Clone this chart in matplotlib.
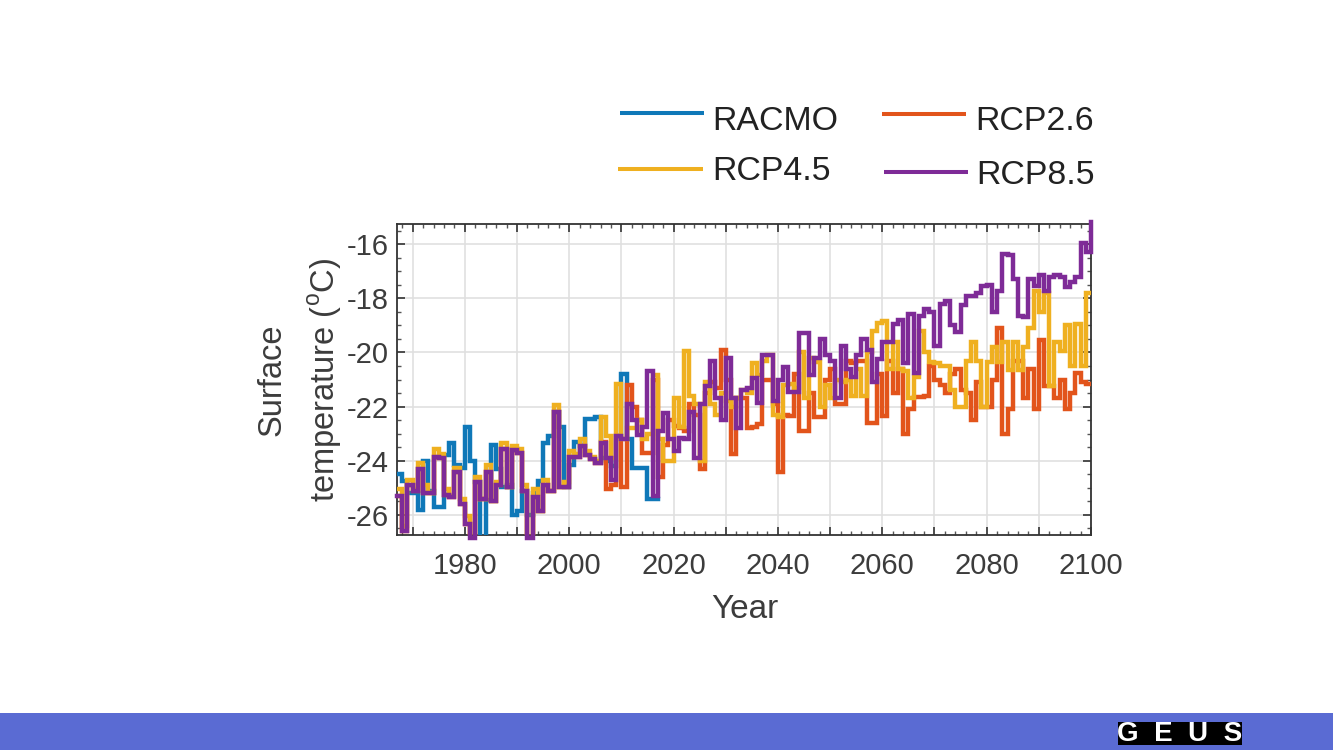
import matplotlib
matplotlib.use("Agg")
import matplotlib.pyplot as plt
import numpy as np
from matplotlib.lines import Line2D
from matplotlib.patches import Rectangle
from matplotlib.ticker import MultipleLocator, FixedLocator

plt.rcParams['font.family'] = ['Liberation Sans', 'DejaVu Sans']
plt.rcParams['mathtext.fontset'] = 'custom'
plt.rcParams['mathtext.rm'] = 'Liberation Sans'

W, H = 1333, 750
BLUE, ORANGE, YELLOW, PURPLE = '#0f78b8', '#e2541b', '#efb020', '#7e2b97'
TXT = '#3c3c3c'

racmo_years = list(range(1967, 2018))
racmo = [-24.5, -24.75, -25.2, -25.2, -25.8, -24.0, -25.1, -25.7, -25.7, -23.8,
         -23.35, -24.15, -24.25, -22.75, -24.0, -24.8, -26.85, -25.45, -23.4, -24.3,
         -24.95, -24.9, -26.0, -25.85, -25.1, -26.0, -25.2, -24.75, -23.35, -23.1,
         -22.2, -22.75, -24.95, -24.15, -23.3, -23.45, -22.45, -22.45, -22.4, -23.9,
         -24.0, -24.2, -23.1, -20.8, -23.2, -24.25, -24.25, -24.25, -25.4, -25.4, -25.4]

rcp_years = list(range(1967, 2101))

rcp85 = [-25.3, -26.6, -24.9, -25.1, -24.3, -25.2, -25.2, -23.85, -23.9, -25.25,
         -25.35, -24.4, -25.6, -26.35, -26.85, -24.8, -25.4, -24.4, -25.5, -24.9,
         -23.55, -24.95, -23.6, -23.7, -25.1, -26.85, -25.35, -25.85, -24.9, -25.1,
         -22.2, -24.95, -24.95, -23.85, -23.85, -23.45, -23.8, -23.95, -24.1, -23.35,
         -23.9, -24.7, -23.1, -23.2, -21.9, -22.5, -23.05, -22.75, -20.7, -25.3,
         -22.9, -22.25, -23.2, -23.65, -23.15, -23.2, -22.2, -23.9, -21.9, -21.25,
         -20.3, -21.7, -22.5, -20.2, -21.7, -22.8,
         -21.4, -21.3, -20.93, -21.85, -20.1, -20.1, -21.8, -21.0, -20.55, -21.45,
         -21.45, -19.3, -19.3, -20.85, -20.2, -19.5, -20.1, -20.3, -21.7, -19.75,
         -20.6, -20.9, -20.1, -19.5, -19.9, -21.1, -20.25, -19.6, -19.6, -18.95,
         -18.8, -20.4, -18.6, -20.75, -18.65, -18.4, -18.5, -19.75, -18.2, -18.1,
         -19.0, -19.25, -18.25, -17.9, -17.9, -17.8, -17.55, -17.5, -18.5, -17.75,
         -16.35, -16.4, -17.3, -18.65, -18.7, -17.3, -17.55, -17.15, -17.75, -17.2,
         -17.15, -17.2, -17.6, -17.4, -17.2, -15.95, -16.3, -15.2]

rcp45 = [-25.05, -26.4, -24.7, -25.05, -24.1, -24.9, -25.2, -23.55, -23.75, -25.05,
         -25.3, -24.25, -25.4, -26.05, -26.85, -24.6, -25.4, -24.15, -25.5, -24.8,
         -23.35, -24.95, -23.45, -23.55, -24.9, -26.85, -25.05, -25.85, -24.7, -25.1,
         -21.95, -24.95, -24.8, -23.65, -23.75, -23.2, -23.65, -23.85, -24.0, -22.4,
         -23.1, -23.9, -21.15, -23.2, -22.8, -22.8, -22.5, -23.2, -23.0, -20.85,
         -23.2, -24.0, -24.0, -21.7, -22.75, -19.95, -21.6, -21.9, -24.0, -21.1,
         -21.9, -22.3, -21.5, -21.8, -22.0, -21.7,
         -21.4, -21.5, -20.4, -20.85, -20.3, -20.1, -22.3, -22.4, -21.2, -21.15,
         -21.3, -20.0, -21.7, -20.2, -20.35, -22.0, -21.2, -21.7, -21.0, -21.1,
         -21.0, -21.6, -20.6, -21.6, -20.0, -19.2, -18.9, -18.85, -20.6, -19.6,
         -20.6, -20.7, -21.7, -20.9, -19.2, -20.0, -20.35, -20.4, -20.5, -20.5,
         -21.4, -22.0, -22.0, -20.3, -19.6, -20.3, -22.0, -20.35, -19.8, -20.35,
         -19.6, -20.65, -19.6, -20.65, -19.8, -19.1, -17.75, -18.5, -17.8, -21.25,
         -19.6, -19.95, -19.0, -20.5, -18.95, -20.5, -17.8, -17.8]

rcp26 = [-25.3, -26.6, -24.9, -25.1, -24.3, -25.2, -25.2, -23.85, -23.9, -25.25,
         -25.35, -24.4, -25.6, -26.35, -26.85, -24.8, -25.4, -24.4, -25.5, -24.9,
         -23.55, -24.95, -23.6, -23.7, -25.1, -26.85, -25.35, -25.85, -24.9, -25.1,
         -22.2, -24.95, -24.95, -23.85, -23.85, -23.45, -23.8, -23.95, -24.1, -23.3,
         -25.05, -24.9, -23.1, -24.95, -21.2, -22.0, -22.5, -23.7, -23.7, -21.0,
         -24.6, -23.4, -22.5, -22.7, -22.8, -22.9, -21.9, -22.3, -24.3, -21.5,
         -21.1, -21.3, -19.9, -21.0, -23.75, -21.7,
         -21.7, -22.8, -22.75, -22.65, -21.0, -21.0, -21.9, -24.4, -22.3, -22.35,
         -20.8, -22.9, -22.9, -21.5, -22.4, -22.4, -21.0, -20.6, -21.9, -21.9,
         -20.3, -20.4, -20.3, -20.3, -22.6, -22.6, -20.8, -22.35, -20.3, -21.5,
         -20.6, -23.0, -22.1, -21.65, -21.65, -21.6, -20.5, -21.0, -21.2, -21.5,
         -20.8, -20.6, -21.4, -21.5, -22.5, -21.1, -22.0, -22.0, -21.0, -19.1,
         -23.0, -22.1, -20.3, -20.3, -21.7, -20.6, -22.1, -19.55, -21.25, -21.25,
         -21.7, -21.0, -22.1, -21.5, -20.75, -21.1, -21.15, -21.15]

x_ticks_major = list(range(1970, 2101, 10))
x_tick_labels = {1980: '1980', 2000: '2000', 2020: '2020', 2040: '2040',
                 2060: '2060', 2080: '2080', 2100: '2100'}
y_ticks = [-26, -24, -22, -20, -18, -16]

assert len(rcp85) == len(rcp45) == len(rcp26) == len(rcp_years)
assert len(racmo) == len(racmo_years)

fig = plt.figure(figsize=(W / 100, H / 100), dpi=100, facecolor='white')


def fx(p):
    return p / W


def fy(p):
    return 1 - p / H


# footer band and logo
fig.add_artist(Rectangle((0, 0), 1, 37 / H, transform=fig.transFigure,
                         facecolor='#5a6bd3', edgecolor='none'))
fig.add_artist(Rectangle((fx(1118), fy(745)), 124 / W, 23 / H, transform=fig.transFigure,
                         facecolor='black', edgecolor='none'))
fig.text(fx(1180), fy(734), 'G  E  U  S', color='white', fontsize=20, fontweight='bold',
         ha='center', va='center')

ax = fig.add_axes([fx(397), fy(535), (1091 - 397) / W, (535 - 224) / H])
ax.set_xlim(1967, 2100)
ax.set_ylim(-26.74, -15.26)

lw = 3.2
ax.step(racmo_years, racmo, where='post', color=BLUE, lw=lw, zorder=3, solid_joinstyle='miter')
ax.step(rcp_years, rcp26, where='post', color=ORANGE, lw=lw, zorder=4, solid_joinstyle='miter')
ax.step(rcp_years, rcp45, where='post', color=YELLOW, lw=lw, zorder=5, solid_joinstyle='miter')
ax.step(rcp_years, rcp85, where='post', color=PURPLE, lw=lw, zorder=6, clip_on=False,
        solid_joinstyle='miter')

ax.xaxis.set_major_locator(FixedLocator(x_ticks_major))
ax.set_xticklabels([x_tick_labels.get(t, '') for t in x_ticks_major])
ax.xaxis.set_minor_locator(MultipleLocator(2))
ax.yaxis.set_major_locator(FixedLocator(y_ticks))
ax.set_yticklabels([str(v) for v in y_ticks])
ax.yaxis.set_minor_locator(MultipleLocator(0.5))

ax.grid(True, which='major', color='#e0e0e0', lw=1.2, zorder=0)
ax.set_axisbelow(True)
ax.tick_params(axis='x', which='major', pad=12)
ax.tick_params(axis='y', which='major', pad=6)
ax.tick_params(which='major', direction='in', length=6, width=1.2, color='#333333',
               top=True, right=True, labelsize=21, labelcolor=TXT)
ax.tick_params(which='minor', direction='in', length=3, width=1.0, color='#555555',
               top=True, right=True)
for s in ax.spines.values():
    s.set_linewidth(1.3)
    s.set_color('#333333')

fig.text(fx(745), fy(609), 'Year', fontsize=24, color=TXT, ha='center', va='center')
fig.text(fx(300.5), fy(380), 'Surface\ntemperature ($^{\\mathrm{o}}$C)', fontsize=23.5, color=TXT,
         rotation=90, ha='center', va='center', multialignment='center', linespacing=1.65)

# legend
entries = [('RACMO', BLUE, 620, 704, 113, 712, 121),
           ('RCP2.6', ORANGE, 882, 966, 114, 975, 121),
           ('RCP4.5', YELLOW, 618, 703, 169, 712, 172),
           ('RCP8.5', PURPLE, 884, 968, 172, 976, 175)]
for label, col, x0, x1, yl, xt, yt in entries:
    fig.add_artist(Line2D([fx(x0), fx(x1)], [fy(yl), fy(yl)], transform=fig.transFigure,
                          color=col, lw=2.9, solid_capstyle='butt'))
    fig.text(fx(xt), fy(yt), label, fontsize=24.4, color='#222222', ha='left', va='center')

fig.savefig('out.png', dpi=100, facecolor='white')
